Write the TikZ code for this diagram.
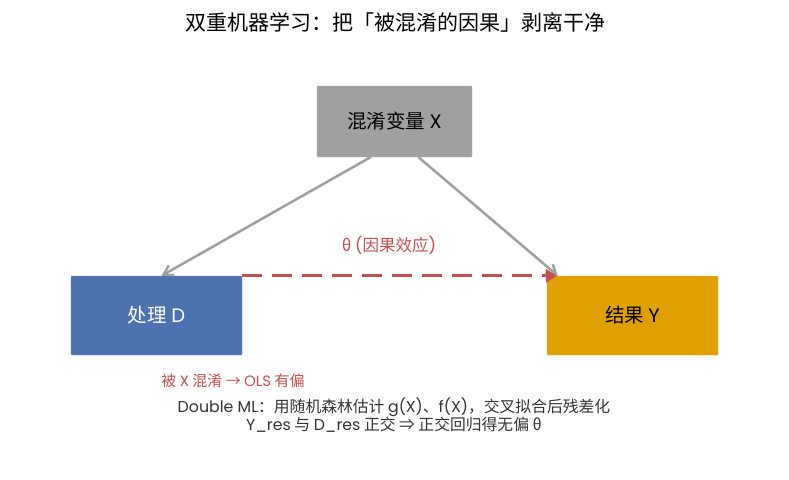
\documentclass[tikz,border=0pt]{standalone}
\usepackage{fontspec}
\setmainfont{Noto Sans CJK SC}
\newfontfamily\lat{Poppins}
\usetikzlibrary{arrows.meta,positioning}
\definecolor{xgray}{HTML}{A0A0A0}
\definecolor{treatc}{HTML}{4C72B0}
\definecolor{outcc}{HTML}{E0A000}
\definecolor{effect}{HTML}{C44E52}
\definecolor{ink}{HTML}{333333}

\begin{document}
\begin{tikzpicture}[
  x=1pt, y=-1pt,
  block/.style={rounded corners=1pt, minimum width=171pt, minimum height=79pt, align=center, font=\fontsize{19.5}{23}\selectfont},
  link/.style={-{Straight Barb[length=9pt,width=11pt]}, xgray, line width=2.5pt},
  effarrow/.style={-{Triangle[length=11pt,width=13pt]}, effect, line width=3pt, dash pattern=on 20pt off 10pt}
]
  \useasboundingbox (0,0) rectangle (789,479);

  % Title
  \node[font=\fontsize{21}{25}\selectfont] (title) at (395,22) {双重机器学习：把「被混淆的因果」剥离干净};

  % Variables
  \node[block, fill=xgray, draw=xgray!80, minimum width=155pt, minimum height=71pt] (conf) at (394.5,121.5) {混淆变量 {\lat X}};
  \node[block, fill=treatc, draw=treatc!80, text=white] (treat) at (156.5,315.5) {处理 {\lat D}};
  \node[block, fill=outcc, draw=outcc!80] (outc) at (632.5,315.5) {结果 {\lat Y}};

  % Confounding paths
  \draw[link] ([xshift=-24pt]conf.south) -- ([xshift=5pt]treat.north);
  \draw[link] ([xshift=24pt]conf.south) -- ([xshift=11pt]outc.north west);

  % Causal effect
  \draw[effarrow] (treat.north east) -- ([xshift=10pt]outc.north west);
  \node[text=effect, font=\fontsize{16.5}{19}\selectfont] (theta) at (389,245) {θ {\lat (}因果效应{\lat )}};

  % Notes
  \node[text=effect, font=\fontsize{15}{18}\selectfont] (bias) at (233,381) {被 {\lat X} 混淆 → {\lat OLS} 有偏};
  \node[text=ink, align=center, font=\fontsize{15.8}{16.5}\selectfont] (note) at (394,415)
    {{\lat Double ML}：用随机森林估计 {\lat g(X)}、{\lat f(X)}，交叉拟合后残差化\\
     {\lat Y\_res} 与 {\lat D\_res} 正交 ⇒ 正交回归得无偏 θ};
\end{tikzpicture}
\end{document}
